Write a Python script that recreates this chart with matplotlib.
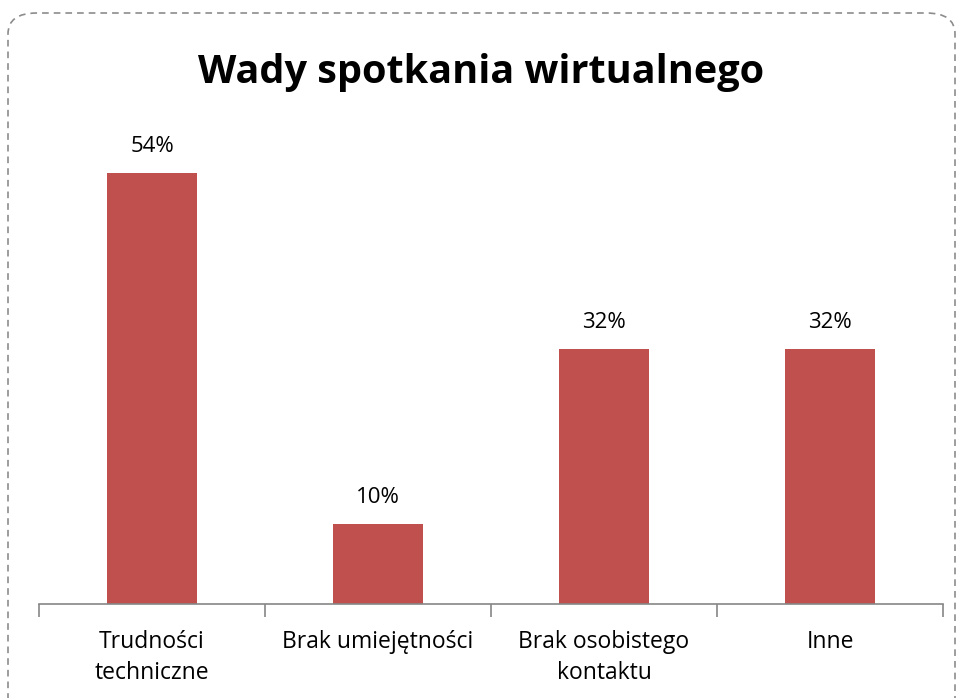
import matplotlib
matplotlib.use("Agg")
import matplotlib.pyplot as plt
from matplotlib.patches import FancyBboxPatch

categories = ["Trudności\ntechniczne", "Brak umiejętności", "Brak osobistego\nkontaktu", "Inne"]
values = [54, 10, 32, 32]
title = "Wady spotkania wirtualnego"

plt.rcParams['font.family'] = ['Open Sans', 'DejaVu Sans']

W, H = 963, 698
fig = plt.figure(figsize=(W/100, H/100), dpi=100)
ax = fig.add_axes([39/W, (H-604)/H, (943-39)/W, (604-125)/H])

x = range(len(categories))
ax.bar(x, values, width=0.4, color="#C0504D")
for i, v in enumerate(values):
    ax.text(i, v + 2.0, f"{v}%", ha="center", va="bottom", fontsize=16, color="black")

ax.set_xlim(-0.5, len(categories) - 0.5)
ax.set_ylim(0, 60)
ax.set_yticks([])
for s in ["top", "right", "left"]:
    ax.spines[s].set_visible(False)
ax.spines["bottom"].set_color("#868686")
ax.spines["bottom"].set_linewidth(1.2)
ax.set_xticks([i - 0.5 for i in range(len(categories) + 1)], minor=False)
ax.set_xticklabels([])
ax.tick_params(axis="x", length=9, color="#868686", width=1.2)
ax.set_xticks(list(x), minor=True)
ax.set_xticklabels(categories, minor=True, fontsize=16.5, linespacing=1.35)
ax.tick_params(axis="x", which="minor", length=0, pad=19)

fig.text(0.5, (H-72)/H, title, ha="center", va="center", fontsize=28.5, fontweight="bold")

border = FancyBboxPatch((8/W, -20/H), (955-8)/W, (H-13+20)/H,
                        boxstyle="round,pad=0,rounding_size=0.03",
                        transform=fig.transFigure, fill=False,
                        edgecolor="#8c8c8c", linestyle=(0, (4, 3)), linewidth=1.2,
                        clip_on=False)
fig.patches.append(border)

fig.savefig("out.png", dpi=100)
